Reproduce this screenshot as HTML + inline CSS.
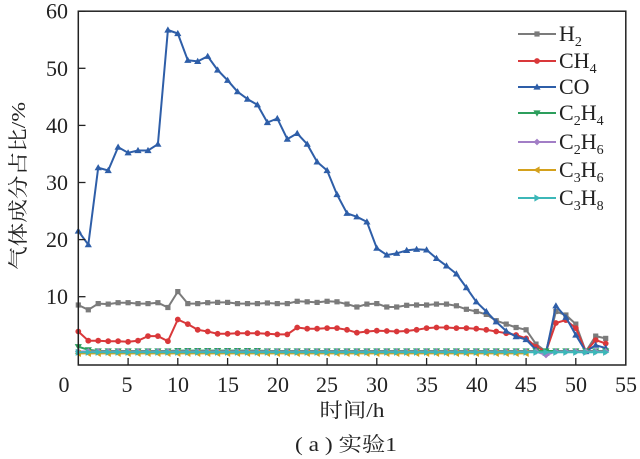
<!DOCTYPE html>
<html><head><meta charset="utf-8"><style>
html,body{margin:0;padding:0;background:#fff;}
svg{display:block;}
text{font-family:"Liberation Serif","Noto Serif CJK SC",serif;fill:#222;}
</style></head><body>
<svg width="640" height="459" viewBox="0 0 640 459" xmlns="http://www.w3.org/2000/svg">
<defs>
<marker id="mSq" markerUnits="userSpaceOnUse" markerWidth="10" markerHeight="10" refX="5" refY="5"><rect x="2.4" y="2.4" width="5.2" height="5.2" fill="#7b7b7b"/></marker>
<marker id="mCi" markerUnits="userSpaceOnUse" markerWidth="10" markerHeight="10" refX="5" refY="5"><circle cx="5" cy="5" r="2.9" fill="#d9383a"/></marker>
<marker id="mTu" markerUnits="userSpaceOnUse" markerWidth="10" markerHeight="10" refX="5" refY="5"><polygon points="5,1.4 8.6,7.6 1.4,7.6" fill="#2e5ea8"/></marker>
<marker id="mTd" markerUnits="userSpaceOnUse" markerWidth="10" markerHeight="10" refX="5" refY="5"><polygon points="5,8.6 8.6,2.4 1.4,2.4" fill="#2c9e5c"/></marker>
<marker id="mDi" markerUnits="userSpaceOnUse" markerWidth="10" markerHeight="10" refX="5" refY="5"><polygon points="5,1.6 8.4,5 5,8.4 1.6,5" fill="#a27ec6"/></marker>
<marker id="mTl" markerUnits="userSpaceOnUse" markerWidth="10" markerHeight="10" refX="5" refY="5"><polygon points="1.4,5 7.6,1.4 7.6,8.6" fill="#d4a11c"/></marker>
<marker id="mTr" markerUnits="userSpaceOnUse" markerWidth="10" markerHeight="10" refX="5" refY="5"><polygon points="8.6,5 2.4,1.4 2.4,8.6" fill="#3cb7b8"/></marker>
</defs>

<g fill="none" stroke-width="2" stroke-linejoin="round">
<polyline stroke="#7b7b7b" marker-start="url(#mSq)" marker-mid="url(#mSq)" marker-end="url(#mSq)" points="78.3,305 88.3,309.8 98.2,303.6 108.2,304.1 118.1,302.7 128.1,302.7 138,303.6 148,303.6 157.9,302.7 167.9,307.5 177.8,291.6 187.8,303.6 197.7,303.6 207.7,302.7 217.6,302.4 227.6,302.4 237.5,303.6 247.5,303.6 257.4,303.6 267.4,303 277.3,303.6 287.3,303.6 297.2,301.3 307.2,301.8 317.1,302.4 327.1,301.3 337,301.8 347,304.1 356.9,307 366.9,304.1 376.8,303.6 386.8,307 396.7,307 406.7,305.3 416.6,305 426.6,305 436.5,304.1 446.5,304.1 456.4,305.8 466.4,309.3 476.3,311.5 486.3,314.4 496.2,320.7 506.2,324.1 516.1,327.5 526.1,329.8 536,344.1 546,351.5 555.9,311.5 565.9,315 575.8,324.1 585.8,351.5 595.7,336.1 605.7,338.4"/>
<polyline stroke="#d9383a" marker-start="url(#mCi)" marker-mid="url(#mCi)" marker-end="url(#mCi)" points="78.3,331.5 88.3,340.7 98.2,340.7 108.2,341.2 118.1,341.2 128.1,341.8 138,340.7 148,336.1 157.9,336.1 167.9,341.2 177.8,319.5 187.8,324.1 197.7,329.8 207.7,331.5 217.6,333.8 227.6,333.8 237.5,333.2 247.5,333.2 257.4,333.2 267.4,333.8 277.3,334.4 287.3,334.4 297.2,327.5 307.2,328.7 317.1,328.7 327.1,328.1 337,328.1 347,329.8 356.9,332.7 366.9,331.5 376.8,330.7 386.8,331 396.7,331.5 406.7,331 416.6,329.8 426.6,328.1 436.5,327.5 446.5,327.5 456.4,328.1 466.4,328.1 476.3,328.7 486.3,329.8 496.2,331.5 506.2,333.2 516.1,335 526.1,338.4 536,346.9 546,351.5 555.9,323 565.9,320.1 575.8,328.1 585.8,351.5 595.7,340.1 605.7,343.5"/>
<polyline stroke="#2e5ea8" marker-start="url(#mTu)" marker-mid="url(#mTu)" marker-end="url(#mTu)" points="78.3,231 88.3,244.7 98.2,167.7 108.2,170.5 118.1,147.1 128.1,152.8 138,150.5 148,150.5 157.9,144.2 167.9,30 177.8,33.5 187.8,60.3 197.7,61.4 207.7,56.3 217.6,70 227.6,80.3 237.5,91.7 247.5,99.1 257.4,104.8 267.4,122.5 277.3,118.5 287.3,139.1 297.2,133.4 307.2,144.2 317.1,161.9 327.1,170.5 337,194.5 347,213.3 356.9,216.8 366.9,221.9 376.8,248.2 386.8,255 396.7,253.3 406.7,250.4 416.6,249.3 426.6,249.9 436.5,258.4 446.5,265.9 456.4,273.9 466.4,287.6 476.3,301.8 486.3,311.5 496.2,321.8 506.2,331 516.1,336.7 526.1,339.5 536,349.8 546,353.2 555.9,305.8 565.9,317.3 575.8,335 585.8,351.5 595.7,345.2 605.7,348.1"/>
<polyline stroke="#2c9e5c" marker-start="url(#mTd)" marker-mid="url(#mTd)" marker-end="url(#mTd)" points="78.3,346.7 88.3,349.8 98.2,351 108.2,351 118.1,351 128.1,351 138,351 148,351 157.9,351 167.9,351 177.8,350.6 187.8,350.6 197.7,350.6 207.7,350.6 217.6,350.6 227.6,350.6 237.5,350.6 247.5,350.6 257.4,350.6 267.4,351 277.3,351 287.3,351 297.2,351 307.2,351 317.1,351 327.1,351 337,351 347,351 356.9,351 366.9,351 376.8,351 386.8,351 396.7,351 406.7,351 416.6,351 426.6,351 436.5,351 446.5,351 456.4,351 466.4,351 476.3,351 486.3,351 496.2,351 506.2,351 516.1,351 526.1,351 536,351 546,351 555.9,351 565.9,351 575.8,351 585.8,351 595.7,351 605.7,351"/>
<polyline stroke="#a27ec6" marker-start="url(#mDi)" marker-mid="url(#mDi)" marker-end="url(#mDi)" points="78.3,351.5 88.3,351.5 98.2,351.5 108.2,351.5 118.1,351.5 128.1,351.5 138,351.5 148,351.5 157.9,351.5 167.9,351.5 177.8,351.5 187.8,351.5 197.7,351.5 207.7,351.5 217.6,351.5 227.6,351.5 237.5,351.5 247.5,351.5 257.4,351.5 267.4,351.5 277.3,351.5 287.3,351.5 297.2,351.5 307.2,351.5 317.1,351.5 327.1,351.5 337,351.5 347,351.5 356.9,351.5 366.9,351.5 376.8,351.5 386.8,351.5 396.7,351.5 406.7,351.5 416.6,351.5 426.6,351.5 436.5,351.5 446.5,351.5 456.4,351.5 466.4,351.5 476.3,351.5 486.3,351.5 496.2,351.5 506.2,351.5 516.1,351.5 526.1,351.5 536,351.5 546,355 555.9,351.5 565.9,351.5 575.8,351.5 585.8,351.5 595.7,351.5 605.7,351.5"/>
<polyline stroke="#d4a11c" marker-start="url(#mTl)" marker-mid="url(#mTl)" marker-end="url(#mTl)" points="78.3,353.4 88.3,353.4 98.2,353.4 108.2,353.4 118.1,353.4 128.1,353.4 138,353.4 148,353.4 157.9,353.4 167.9,353.4 177.8,353.4 187.8,353.4 197.7,353.4 207.7,353.4 217.6,353.4 227.6,353.4 237.5,353.4 247.5,353.4 257.4,353.4 267.4,353.4 277.3,353.4 287.3,353.4 297.2,353.4 307.2,353.4 317.1,353.4 327.1,353.4 337,353.4 347,353.4 356.9,353.4 366.9,353.4 376.8,353.4 386.8,353.4 396.7,353.4 406.7,353.4 416.6,353.4 426.6,353.4 436.5,353.4 446.5,353.4 456.4,353.4 466.4,353.4 476.3,353.4 486.3,353.4 496.2,353.4 506.2,353.4 516.1,353.4 526.1,353.4"/>
<polyline stroke="#3cb7b8" marker-start="url(#mTr)" marker-mid="url(#mTr)" marker-end="url(#mTr)" points="78.3,352.3 88.3,352.3 98.2,352.3 108.2,352.3 118.1,352.3 128.1,352.3 138,352.3 148,352.3 157.9,352.3 167.9,352.3 177.8,352.3 187.8,352.3 197.7,352.3 207.7,352.3 217.6,352.3 227.6,352.3 237.5,352.3 247.5,352.3 257.4,352.3 267.4,352.3 277.3,352.3 287.3,352.3 297.2,352.3 307.2,352.3 317.1,352.3 327.1,352.3 337,352.3 347,352.3 356.9,352.3 366.9,352.3 376.8,352.3 386.8,352.3 396.7,352.3 406.7,352.3 416.6,352.3 426.6,352.3 436.5,352.3 446.5,352.3 456.4,352.3 466.4,352.3 476.3,352.3 486.3,352.3 496.2,352.3 506.2,352.3 516.1,352.3 526.1,352.3 536,352.3 546,352.3 555.9,352.3 565.9,352.3 575.8,352.3 585.8,352.3 595.7,352.3 605.7,352.3"/>
</g>

<rect x="78.3" y="11.2" width="547.5" height="353.8" fill="none" stroke="#222" stroke-width="1.5"/>
<g stroke="#222" stroke-width="1.3">
<line x1="78.3" y1="11.2" x2="85.5" y2="11.2"/>
<line x1="78.3" y1="68.3" x2="85.5" y2="68.3"/>
<line x1="78.3" y1="125.4" x2="85.5" y2="125.4"/>
<line x1="78.3" y1="182.5" x2="85.5" y2="182.5"/>
<line x1="78.3" y1="239.6" x2="85.5" y2="239.6"/>
<line x1="78.3" y1="296.7" x2="85.5" y2="296.7"/>
<line x1="128.1" y1="365" x2="128.1" y2="358"/>
<line x1="177.8" y1="365" x2="177.8" y2="358"/>
<line x1="227.6" y1="365" x2="227.6" y2="358"/>
<line x1="277.3" y1="365" x2="277.3" y2="358"/>
<line x1="327.1" y1="365" x2="327.1" y2="358"/>
<line x1="376.8" y1="365" x2="376.8" y2="358"/>
<line x1="426.6" y1="365" x2="426.6" y2="358"/>
<line x1="476.3" y1="365" x2="476.3" y2="358"/>
<line x1="526.1" y1="365" x2="526.1" y2="358"/>
<line x1="575.8" y1="365" x2="575.8" y2="358"/>
</g>

<g font-size="22" text-anchor="end">
<text x="68" y="18.7">60</text>
<text x="68" y="75.8">50</text>
<text x="68" y="132.9">40</text>
<text x="68" y="190">30</text>
<text x="68" y="247.1">20</text>
<text x="68" y="304.2">10</text>
</g>
<g font-size="22" text-anchor="middle">
<text x="64" y="392">0</text>
<text x="127" y="392">5</text>
<text x="178" y="392">10</text>
<text x="228" y="392">15</text>
<text x="278" y="392">20</text>
<text x="327" y="392">25</text>
<text x="377" y="392">30</text>
<text x="427" y="392">35</text>
<text x="477" y="392">40</text>
<text x="526" y="392">45</text>
<text x="576" y="392">50</text>
<text x="626" y="392">55</text>
</g>

<text x="352" y="417" font-size="20" text-anchor="middle" textLength="65" lengthAdjust="spacingAndGlyphs">时间/h</text>
<text x="346" y="451" font-size="20" text-anchor="middle" textLength="102" lengthAdjust="spacingAndGlyphs">( a ) 实验1</text>
<text transform="translate(25,186) rotate(-90)" font-size="20" text-anchor="middle" textLength="168" lengthAdjust="spacingAndGlyphs">气体成分占比/%</text>

<g stroke-width="2" fill="none">
<polyline points="518,34 537,34 556,34" stroke="#7b7b7b" marker-mid="url(#mSq)"/>
<polyline points="518,61 537,61 556,61" stroke="#d9383a" marker-mid="url(#mCi)"/>
<polyline points="518,87 537,87 556,87" stroke="#2e5ea8" marker-mid="url(#mTu)"/>
<polyline points="518,113 537,113 556,113" stroke="#2c9e5c" marker-mid="url(#mTd)"/>
<polyline points="518,142 537,142 556,142" stroke="#a27ec6" marker-mid="url(#mDi)"/>
<polyline points="518,170 537,170 556,170" stroke="#d4a11c" marker-mid="url(#mTl)"/>
<polyline points="518,198 537,198 556,198" stroke="#3cb7b8" marker-mid="url(#mTr)"/>
</g>
<g font-size="22">
<text x="559" y="41">H<tspan font-size="14" dy="5">2</tspan></text>
<text x="559" y="68">CH<tspan font-size="14" dy="5">4</tspan></text>
<text x="559" y="94">CO</text>
<text x="559" y="120">C<tspan font-size="14" dy="5">2</tspan><tspan dy="-5">H</tspan><tspan font-size="14" dy="5">4</tspan></text>
<text x="559" y="149">C<tspan font-size="14" dy="5">2</tspan><tspan dy="-5">H</tspan><tspan font-size="14" dy="5">6</tspan></text>
<text x="559" y="177">C<tspan font-size="14" dy="5">3</tspan><tspan dy="-5">H</tspan><tspan font-size="14" dy="5">6</tspan></text>
<text x="559" y="205">C<tspan font-size="14" dy="5">3</tspan><tspan dy="-5">H</tspan><tspan font-size="14" dy="5">8</tspan></text>
</g>
</svg>
</body></html>
